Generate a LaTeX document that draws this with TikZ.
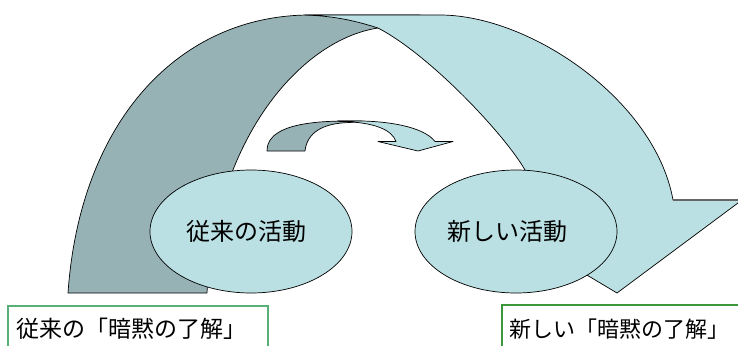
\documentclass[tikz,border=0pt]{standalone}
\usepackage{fontspec}
\usetikzlibrary{shapes.geometric}
\newfontfamily\jp{Noto Sans CJK JP}
\definecolor{bandDark}{RGB}{150,178,181}
\definecolor{bandLight}{RGB}{186,224,227}
\definecolor{boxGreenA}{RGB}{88,176,120}
\definecolor{boxGreenB}{RGB}{60,150,60}
\begin{document}
\begin{tikzpicture}[x=1pt,y=-1pt,
  band/.style={draw=black,line width=0.7pt,line join=round},
  act/.style={ellipse,draw=black,line width=0.7pt,fill=bandLight,minimum width=202pt,minimum height=123pt,inner sep=0pt,font=\jp\fontsize{24pt}{28pt}\selectfont},
  notebox/.style={draw,line width=1.5pt,fill=white,minimum height=48pt,inner sep=0pt},
  notetext/.style={anchor=base west,inner sep=0pt,font=\jp\fontsize{23pt}{27pt}\selectfont}]
\useasboundingbox (0,0) rectangle (738,345);
\clip (0,0) rectangle (738,345);
% big arrow: dark part
\path[band,fill=bandDark] (68,293) .. controls (80,120) and (180,15) .. (310,15)
  -- (420,15) -- (378,28) .. controls (300,40) and (215,140) .. (207,293) -- cycle;
% big arrow: light part
\path[band,fill=bandLight] (305,15) -- (440,15) .. controls (530,15) and (655,100) .. (673,200)
  -- (742,200) -- (617,293) -- (560,259) -- (525,170)
  .. controls (505,135) and (430,55) .. (378,28)
  .. controls (350,19) and (330,16) .. (305,15) -- cycle;
\draw[gray!80!black,line width=1.3pt] (673,200) -- (740,200);
% small arrow: dark part
\path[band,fill=bandDark] (267,151) .. controls (267,132) and (290,121) .. (347,121)
  -- (362,121) -- (350,122.5) .. controls (322,123) and (307,133) .. (305,151) -- cycle;
% small arrow: light part
\path[band,fill=bandLight] (337,121) -- (347,121) .. controls (388,120) and (424,127) .. (435,141.5)
  -- (453,141.5) -- (418,151) -- (378,141.5) -- (396,141.5)
  .. controls (392,130) and (375,122) .. (340,121.5) -- cycle;
% activities
\node[act] (old) at (251,231.5) {\hspace*{-10pt}従来の活動};
\node[act] (new) at (516,231.5) {\hspace*{-17pt}新しい活動};
% notes
\node[notebox,draw=boxGreenA,minimum width=260pt,anchor=north west] (oldnote) at (7,305) {};
\node[notebox,draw=boxGreenB,minimum width=250pt,anchor=north west] (newnote) at (501,304) {};
\node[notetext] (oldtext) at (16,337) {従来の「暗黙の了解」};
\node[notetext,font=\jp\fontsize{22pt}{26pt}\selectfont] (newtext) at (509,337) {新しい「暗黙の了解」};
\end{tikzpicture}
\end{document}
